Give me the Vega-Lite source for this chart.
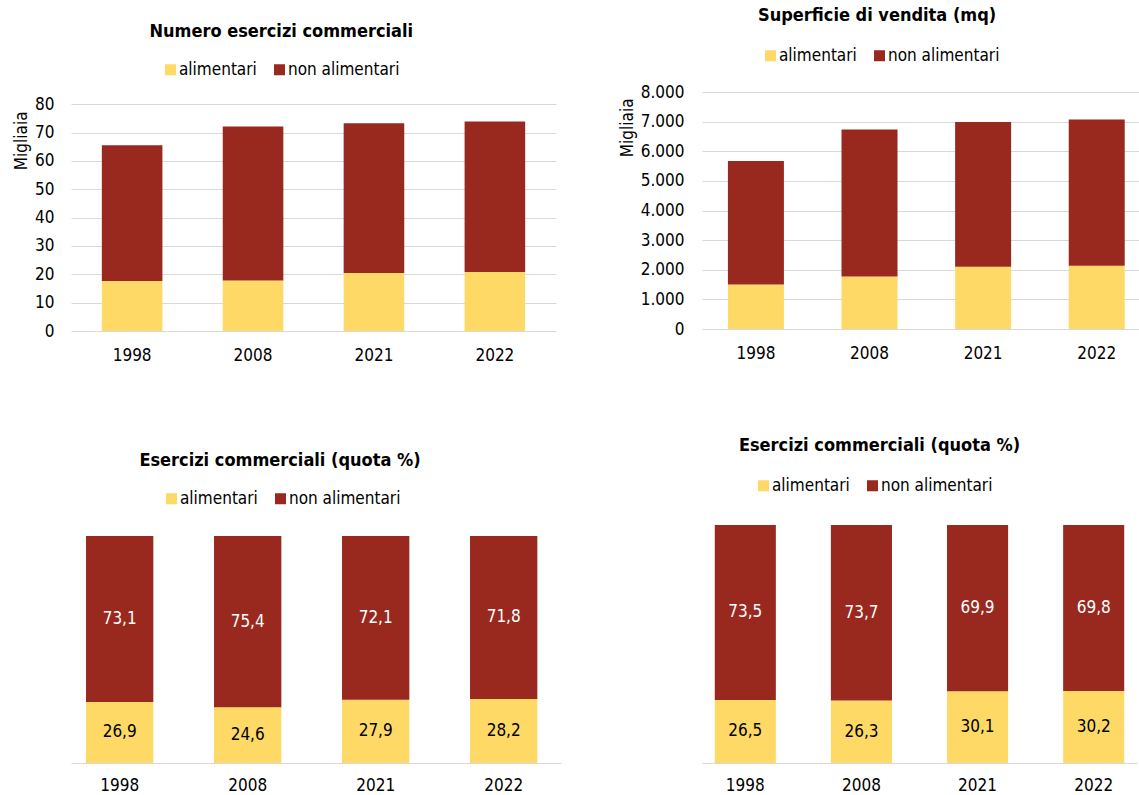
{
  "$schema": "https://vega.github.io/schema/vega-lite/v6.json",
  "background": "white",
  "padding": {"left": 12, "top": 7, "right": 0, "bottom": 0},
  "columns": 2,
  "align": "none",
  "bounds": "flush",
  "spacing": {"column": 141, "row": 194},
  "resolve": {"legend": {"color": "independent"}, "scale": {"color": "independent", "x": "independent", "y": "independent"}},
  "config": {
    "font": "DejaVu Sans Condensed",
    "view": {"stroke": null},
    "locale": {"number": {"decimal": ",", "thousands": ".", "grouping": [3], "currency": ["€", ""]}},
    "axis": {"labelFont": "DejaVu Sans Condensed", "labelFontSize": 17, "labelColor": "#000000", "titleFont": "DejaVu Sans Condensed", "titleFontSize": 17, "titleFontWeight": "normal", "titleColor": "#000000", "gridColor": "#D9D9D9", "gridWidth": 1, "domainColor": "#D9D9D9", "ticks": false},
    "legend": {"labelFont": "DejaVu Sans Condensed", "labelFontSize": 17, "labelColor": "#000000", "symbolType": "square", "symbolSize": 121, "symbolStrokeWidth": 0, "columnPadding": 14, "labelOffset": 0, "direction": "horizontal", "orient": "none", "title": null},
    "title": {"font": "DejaVu Sans Condensed", "fontSize": 18, "fontWeight": "bold", "color": "#000000"}
  },
  "concat": [
    {
      "width": 485,
      "height": 239,
      "title": {"text": "Numero esercizi commerciali", "frame": "bounds", "offset": 20, "dx": -3},
      "data": {"values": [
        {"anno": "1998", "tipo": "alimentari", "valore": 17.6},
        {"anno": "1998", "tipo": "non alimentari", "valore": 47.9},
        {"anno": "2008", "tipo": "alimentari", "valore": 17.8},
        {"anno": "2008", "tipo": "non alimentari", "valore": 54.4},
        {"anno": "2021", "tipo": "alimentari", "valore": 20.5},
        {"anno": "2021", "tipo": "non alimentari", "valore": 52.8},
        {"anno": "2022", "tipo": "alimentari", "valore": 20.8},
        {"anno": "2022", "tipo": "non alimentari", "valore": 53.1}
      ]},
      "mark": {"type": "bar"},
      "encoding": {
        "x": {"field": "anno", "type": "nominal", "sort": null, "scale": {"paddingInner": 0.499, "paddingOuter": 0.255, "align": 0.5}, "axis": {"title": null, "labelAngle": 0, "domain": false, "labelPadding": 16}},
        "y": {"field": "valore", "type": "quantitative", "stack": "zero", "scale": {"domain": [0, 84.33], "nice": false}, "axis": {"values": [0, 10, 20, 30, 40, 50, 60, 70, 80], "title": "Migliaia", "titleAngle": -90, "titleAlign": "right", "titleY": 19, "titlePadding": 4, "labelPadding": 17, "domain": false, "grid": true}},
        "color": {"field": "tipo", "type": "nominal", "scale": {"domain": ["alimentari", "non alimentari"], "range": ["#FFD966", "#99291F"]}, "legend": {"orient": "none", "legendX": 91, "legendY": -31}},
        "order": {"field": "tipo", "sort": "ascending"}
      }
    },
    {
      "width": 440,
      "height": 237,
      "title": {"text": "Superficie di vendita (mq)", "frame": "bounds", "offset": 22, "dx": -3},
      "data": {"values": [
        {"anno": "1998", "tipo": "alimentari", "valore": 1502},
        {"anno": "1998", "tipo": "non alimentari", "valore": 4165},
        {"anno": "2008", "tipo": "alimentari", "valore": 1772},
        {"anno": "2008", "tipo": "non alimentari", "valore": 4964},
        {"anno": "2021", "tipo": "alimentari", "valore": 2102},
        {"anno": "2021", "tipo": "non alimentari", "valore": 4883},
        {"anno": "2022", "tipo": "alimentari", "valore": 2136},
        {"anno": "2022", "tipo": "non alimentari", "valore": 4938}
      ]},
      "mark": {"type": "bar"},
      "encoding": {
        "x": {"field": "anno", "type": "nominal", "sort": null, "scale": {"paddingInner": 0.507, "paddingOuter": 0.19, "align": 0.6}, "axis": {"title": null, "labelAngle": 0, "domain": false, "labelPadding": 16}},
        "y": {"field": "valore", "type": "quantitative", "stack": "zero", "scale": {"domain": [0, 8000], "nice": false}, "axis": {"values": [0, 1000, 2000, 3000, 4000, 5000, 6000, 7000, 8000], "format": ",.0f", "title": "Migliaia", "titleAngle": -90, "titleAlign": "right", "titleY": 6, "titlePadding": 4, "labelPadding": 18, "domain": false, "grid": true}},
        "color": {"field": "tipo", "type": "nominal", "scale": {"domain": ["alimentari", "non alimentari"], "range": ["#FFD966", "#99291F"]}, "legend": {"orient": "none", "legendX": 60, "legendY": -45}},
        "order": {"field": "tipo", "sort": "ascending"}
      }
    },
    {
      "width": 490,
      "height": 238,
      "title": {"text": "Esercizi commerciali (quota %)", "frame": "group", "offset": 20, "dx": -36},
      "data": {"values": [
        {"anno": "1998", "tipo": "alimentari", "quota": 26.9},
        {"anno": "1998", "tipo": "non alimentari", "quota": 73.1},
        {"anno": "2008", "tipo": "alimentari", "quota": 24.6},
        {"anno": "2008", "tipo": "non alimentari", "quota": 75.4},
        {"anno": "2021", "tipo": "alimentari", "quota": 27.9},
        {"anno": "2021", "tipo": "non alimentari", "quota": 72.1},
        {"anno": "2022", "tipo": "alimentari", "quota": 28.2},
        {"anno": "2022", "tipo": "non alimentari", "quota": 71.8}
      ]},
      "encoding": {
        "x": {"field": "anno", "type": "nominal", "sort": null, "scale": {"paddingInner": 0.474, "paddingOuter": 0.151, "align": 0.388}, "axis": {"title": null, "labelAngle": 0, "domain": true, "labelPadding": 14}}
      },
      "layer": [
        {
          "mark": {"type": "bar"},
          "encoding": {
            "y": {"field": "quota", "type": "quantitative", "stack": "zero", "scale": {"domain": [0, 104.85], "nice": false}, "axis": null},
            "color": {"field": "tipo", "type": "nominal", "scale": {"domain": ["alimentari", "non alimentari"], "range": ["#FFD966", "#99291F"]}, "legend": {"orient": "none", "legendX": 92, "legendY": -35}},
            "order": {"field": "tipo", "sort": "ascending"}
          }
        },
        {
          "transform": [
            {"stack": "quota", "groupby": ["anno"], "sort": [{"field": "tipo", "order": "ascending"}], "as": ["q0", "q1"]},
            {"fold": ["q0", "q1"], "as": ["limite", "pos"]}
          ],
          "mark": {"type": "text", "fontSize": 17, "font": "DejaVu Sans Condensed"},
          "encoding": {
            "y": {"field": "pos", "aggregate": "mean", "type": "quantitative", "stack": null, "scale": {"domain": [0, 104.85], "nice": false}, "axis": null},
            "text": {"field": "quota", "type": "quantitative", "format": ".1f"},
            "detail": {"field": "tipo", "type": "nominal"},
            "color": {"condition": {"test": "datum.tipo === 'non alimentari'", "value": "#FFFFFF"}, "value": "#000000"}
          }
        }
      ]
    },
    {
      "width": 435,
      "height": 238,
      "title": {"text": "Esercizi commerciali (quota %)", "frame": "group", "offset": 22, "dx": -40},
      "data": {"values": [
        {"anno": "1998", "tipo": "alimentari", "quota": 26.5},
        {"anno": "1998", "tipo": "non alimentari", "quota": 73.5},
        {"anno": "2008", "tipo": "alimentari", "quota": 26.3},
        {"anno": "2008", "tipo": "non alimentari", "quota": 73.7},
        {"anno": "2021", "tipo": "alimentari", "quota": 30.1},
        {"anno": "2021", "tipo": "non alimentari", "quota": 69.9},
        {"anno": "2022", "tipo": "alimentari", "quota": 30.2},
        {"anno": "2022", "tipo": "non alimentari", "quota": 69.8}
      ]},
      "encoding": {
        "x": {"field": "anno", "type": "nominal", "sort": null, "scale": {"paddingInner": 0.474, "paddingOuter": 0.11, "align": 0.5}, "axis": {"title": null, "labelAngle": 0, "domain": true, "labelPadding": 14}}
      },
      "layer": [
        {
          "mark": {"type": "bar"},
          "encoding": {
            "y": {"field": "quota", "type": "quantitative", "stack": "zero", "scale": {"domain": [0, 100], "nice": false}, "axis": null},
            "color": {"field": "tipo", "type": "nominal", "scale": {"domain": ["alimentari", "non alimentari"], "range": ["#FFD966", "#99291F"]}, "legend": {"orient": "none", "legendX": 53, "legendY": -48}},
            "order": {"field": "tipo", "sort": "ascending"}
          }
        },
        {
          "transform": [
            {"stack": "quota", "groupby": ["anno"], "sort": [{"field": "tipo", "order": "ascending"}], "as": ["q0", "q1"]},
            {"fold": ["q0", "q1"], "as": ["limite", "pos"]}
          ],
          "mark": {"type": "text", "fontSize": 17, "font": "DejaVu Sans Condensed"},
          "encoding": {
            "y": {"field": "pos", "aggregate": "mean", "type": "quantitative", "stack": null, "scale": {"domain": [0, 100], "nice": false}, "axis": null},
            "text": {"field": "quota", "type": "quantitative", "format": ".1f"},
            "detail": {"field": "tipo", "type": "nominal"},
            "color": {"condition": {"test": "datum.tipo === 'non alimentari'", "value": "#FFFFFF"}, "value": "#000000"}
          }
        }
      ]
    }
  ]
}
